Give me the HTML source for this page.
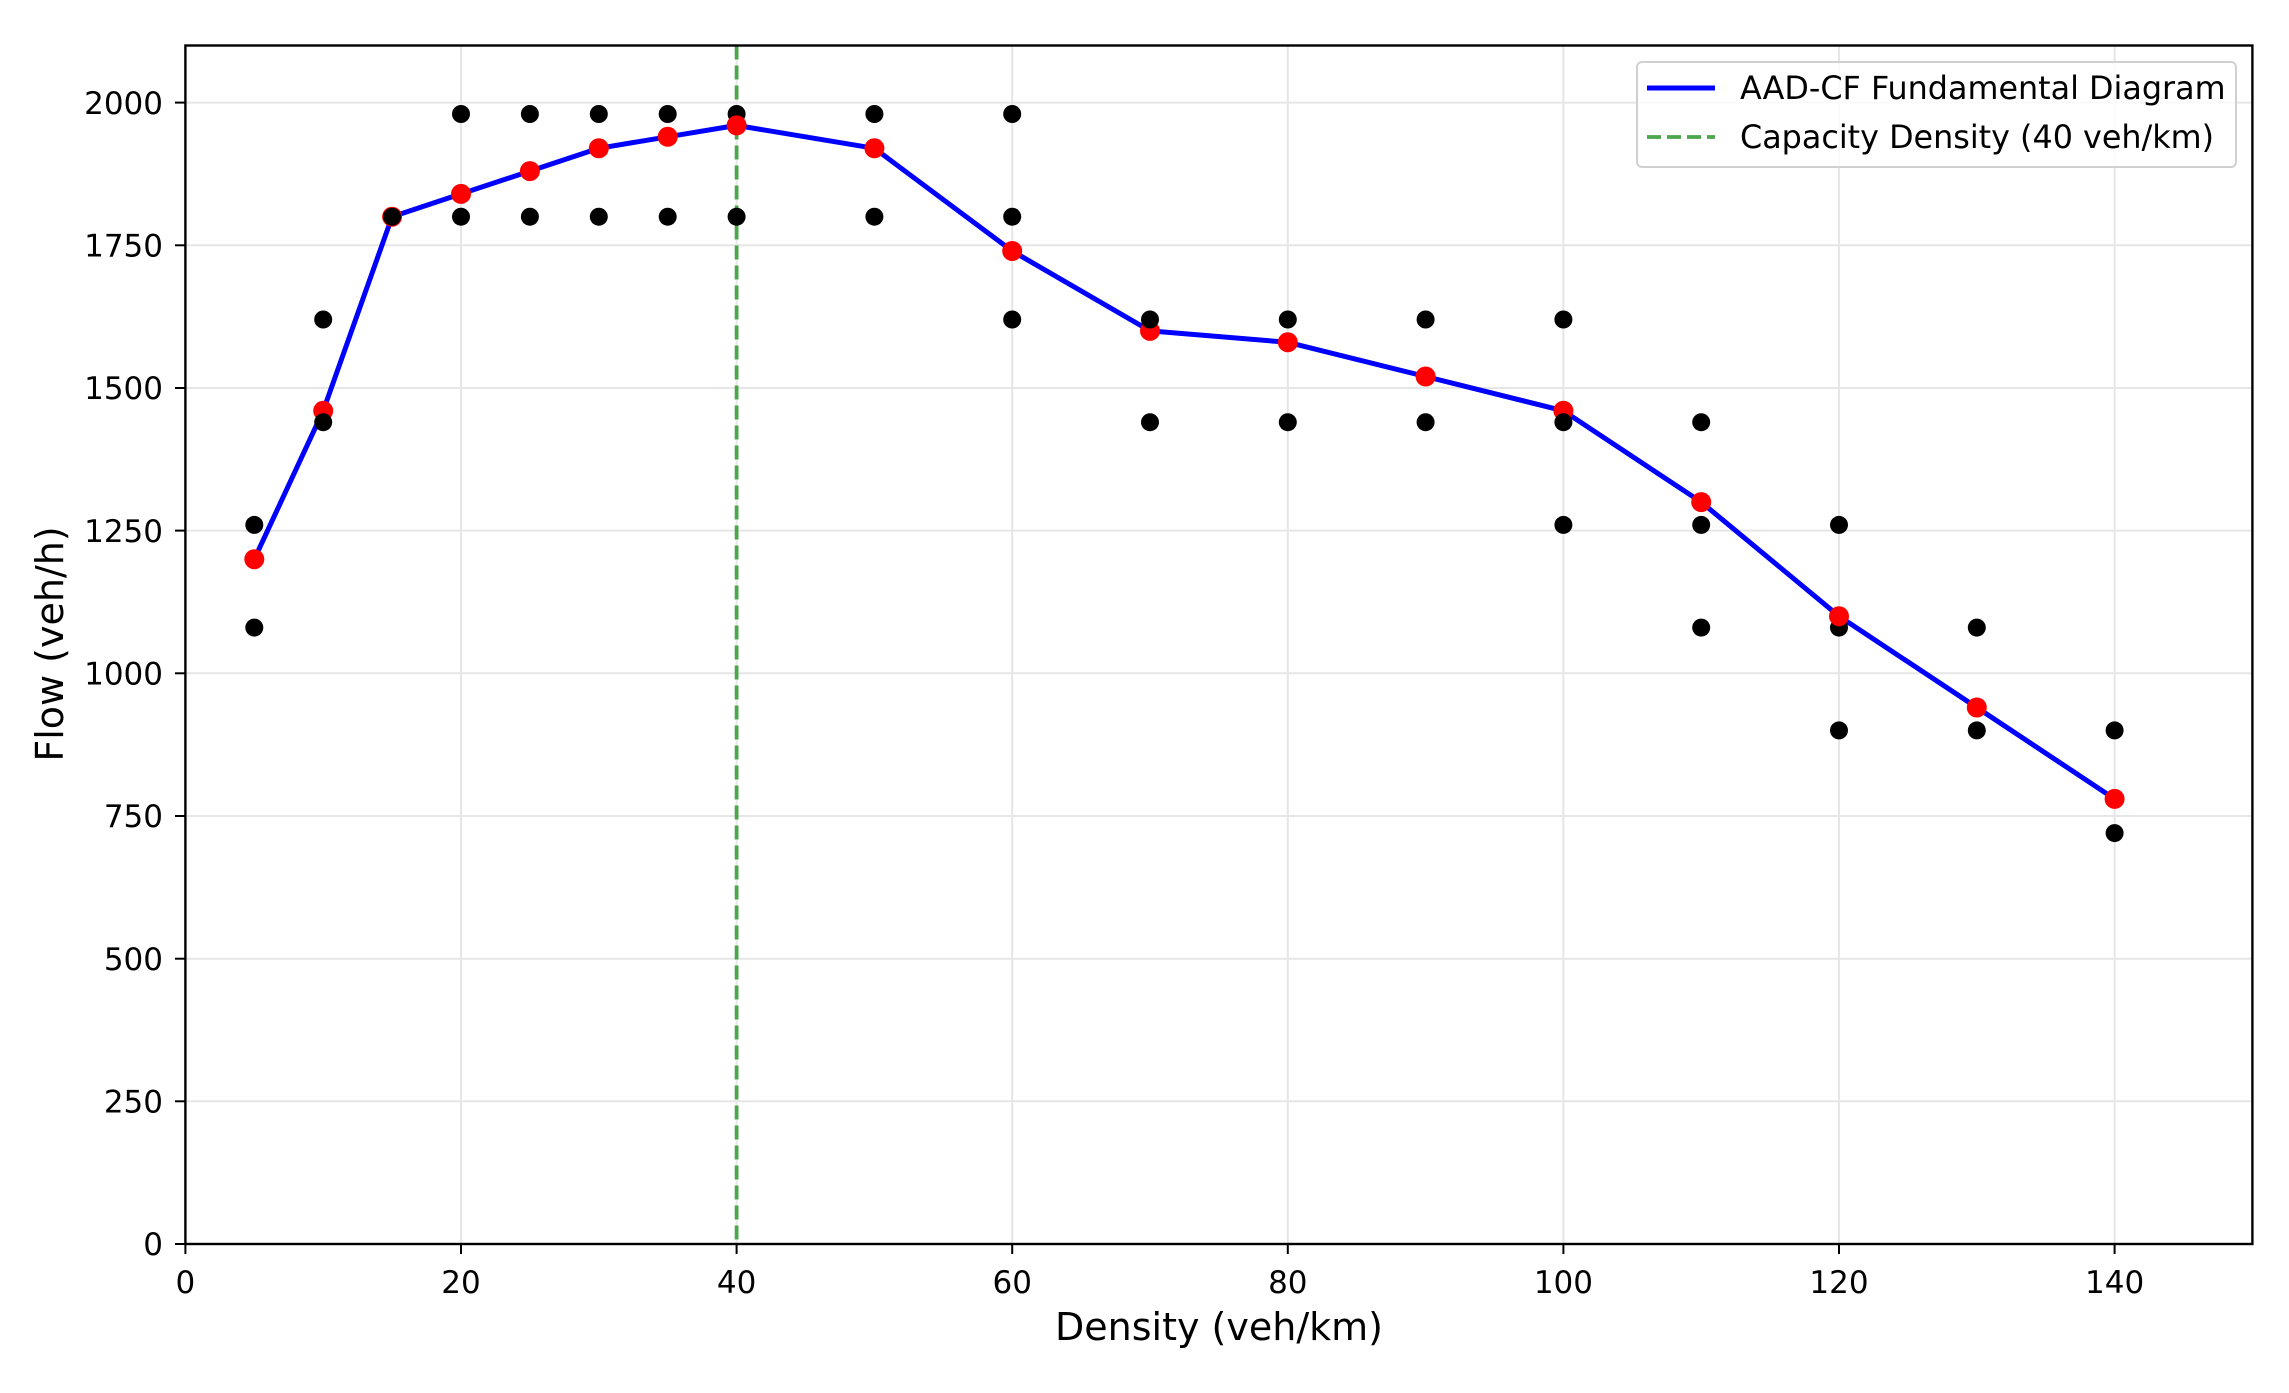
<!DOCTYPE html>
<html><head><meta charset="utf-8"><style>html,body{margin:0;padding:0;background:#fff}svg{display:block}</style></head>
<body>
<svg width="2289" height="1393" xmlns="http://www.w3.org/2000/svg" font-family="'DejaVu Sans','Liberation Sans',sans-serif">
<rect width="2289" height="1393" fill="#fff"/>
<g stroke="#e6e6e6" stroke-width="2">
<line x1="185.4" y1="45.5" x2="185.4" y2="1244"/>
<line x1="461" y1="45.5" x2="461" y2="1244"/>
<line x1="736.6" y1="45.5" x2="736.6" y2="1244"/>
<line x1="1012.2" y1="45.5" x2="1012.2" y2="1244"/>
<line x1="1287.8" y1="45.5" x2="1287.8" y2="1244"/>
<line x1="1563.4" y1="45.5" x2="1563.4" y2="1244"/>
<line x1="1839" y1="45.5" x2="1839" y2="1244"/>
<line x1="2114.6" y1="45.5" x2="2114.6" y2="1244"/>
<line x1="185.4" y1="1101.3" x2="2252.4" y2="1101.3"/>
<line x1="185.4" y1="958.7" x2="2252.4" y2="958.7"/>
<line x1="185.4" y1="816" x2="2252.4" y2="816"/>
<line x1="185.4" y1="673.3" x2="2252.4" y2="673.3"/>
<line x1="185.4" y1="530.6" x2="2252.4" y2="530.6"/>
<line x1="185.4" y1="388" x2="2252.4" y2="388"/>
<line x1="185.4" y1="245.3" x2="2252.4" y2="245.3"/>
<line x1="185.4" y1="102.6" x2="2252.4" y2="102.6"/>
</g>
<line x1="736.6" y1="45.5" x2="736.6" y2="1244" stroke="#4ca64c" stroke-width="3.8" stroke-dasharray="14,6"/>
<polyline fill="none" stroke="#0000ff" stroke-width="5" stroke-linejoin="round" points="254.3,559.2 323.2,410.8 392.1,216.7 461,193.9 529.9,171.1 598.8,148.3 667.7,136.8 736.6,125.4 874.4,148.3 1012.2,251 1150,330.9 1287.8,342.3 1425.6,376.5 1563.4,410.8 1701.2,502.1 1839,616.2 1976.8,707.5 2114.6,798.9"/>
<g fill="#ff0000">
<circle cx="254.3" cy="559.2" r="10"/><circle cx="323.2" cy="410.8" r="10"/><circle cx="392.1" cy="216.7" r="10"/><circle cx="461" cy="193.9" r="10"/><circle cx="529.9" cy="171.1" r="10"/><circle cx="598.8" cy="148.3" r="10"/><circle cx="667.7" cy="136.8" r="10"/><circle cx="874.4" cy="148.3" r="10"/><circle cx="1012.2" cy="251" r="10"/><circle cx="1150" cy="330.9" r="10"/><circle cx="1287.8" cy="342.3" r="10"/><circle cx="1425.6" cy="376.5" r="10"/><circle cx="1563.4" cy="410.8" r="10"/><circle cx="1701.2" cy="502.1" r="10"/><circle cx="1976.8" cy="707.5" r="10"/><circle cx="2114.6" cy="798.9" r="10"/>
</g>
<g fill="#000">
<circle cx="254.3" cy="524.9" r="9"/><circle cx="254.3" cy="627.6" r="9"/>
<circle cx="323.2" cy="319.5" r="9"/><circle cx="323.2" cy="422.2" r="9"/>
<circle cx="392.1" cy="216.7" r="9"/>
<circle cx="461" cy="114" r="9"/><circle cx="461" cy="216.7" r="9"/>
<circle cx="529.9" cy="114" r="9"/><circle cx="529.9" cy="216.7" r="9"/>
<circle cx="598.8" cy="114" r="9"/><circle cx="598.8" cy="216.7" r="9"/>
<circle cx="667.7" cy="114" r="9"/><circle cx="667.7" cy="216.7" r="9"/>
<circle cx="736.6" cy="114" r="9"/><circle cx="736.6" cy="216.7" r="9"/>
<circle cx="874.4" cy="114" r="9"/><circle cx="874.4" cy="216.7" r="9"/>
<circle cx="1012.2" cy="114" r="9"/><circle cx="1012.2" cy="216.7" r="9"/><circle cx="1012.2" cy="319.5" r="9"/>
<circle cx="1150" cy="319.5" r="9"/><circle cx="1150" cy="422.2" r="9"/>
<circle cx="1287.8" cy="319.5" r="9"/><circle cx="1287.8" cy="422.2" r="9"/>
<circle cx="1425.6" cy="319.5" r="9"/><circle cx="1425.6" cy="422.2" r="9"/>
<circle cx="1563.4" cy="319.5" r="9"/><circle cx="1563.4" cy="422.2" r="9"/><circle cx="1563.4" cy="524.9" r="9"/>
<circle cx="1701.2" cy="422.2" r="9"/><circle cx="1701.2" cy="524.9" r="9"/><circle cx="1701.2" cy="627.6" r="9"/>
<circle cx="1839" cy="524.9" r="9"/><circle cx="1839" cy="627.6" r="9"/><circle cx="1839" cy="730.4" r="9"/>
<circle cx="1976.8" cy="627.6" r="9"/><circle cx="1976.8" cy="730.4" r="9"/>
<circle cx="2114.6" cy="730.4" r="9"/><circle cx="2114.6" cy="833.1" r="9"/>
</g>
<g fill="#ff0000"><circle cx="736.6" cy="125.4" r="10"/><circle cx="1839" cy="616.2" r="10"/></g>
<rect x="185.4" y="45.5" width="2067" height="1198.5" fill="none" stroke="#000" stroke-width="2.4"/>
<g stroke="#000" stroke-width="2">
<line x1="185.4" y1="1244" x2="185.4" y2="1254"/><line x1="461" y1="1244" x2="461" y2="1254"/><line x1="736.6" y1="1244" x2="736.6" y2="1254"/><line x1="1012.2" y1="1244" x2="1012.2" y2="1254"/><line x1="1287.8" y1="1244" x2="1287.8" y2="1254"/><line x1="1563.4" y1="1244" x2="1563.4" y2="1254"/><line x1="1839" y1="1244" x2="1839" y2="1254"/><line x1="2114.6" y1="1244" x2="2114.6" y2="1254"/>
<line x1="175" y1="1244" x2="185.4" y2="1244"/><line x1="175" y1="1101.3" x2="185.4" y2="1101.3"/><line x1="175" y1="958.7" x2="185.4" y2="958.7"/><line x1="175" y1="816" x2="185.4" y2="816"/><line x1="175" y1="673.3" x2="185.4" y2="673.3"/><line x1="175" y1="530.6" x2="185.4" y2="530.6"/><line x1="175" y1="388" x2="185.4" y2="388"/><line x1="175" y1="245.3" x2="185.4" y2="245.3"/><line x1="175" y1="102.6" x2="185.4" y2="102.6"/>
</g>
<g font-size="31" fill="#000" text-anchor="middle">
<text x="185.4" y="1293">0</text><text x="461" y="1293">20</text><text x="736.6" y="1293">40</text><text x="1012.2" y="1293">60</text><text x="1287.8" y="1293">80</text><text x="1563.4" y="1293">100</text><text x="1839" y="1293">120</text><text x="2114.6" y="1293">140</text>
</g>
<g font-size="31" fill="#000" text-anchor="end">
<text x="163" y="1255">0</text><text x="163" y="1112.5">250</text><text x="163" y="970">500</text><text x="163" y="827">750</text><text x="163" y="684.5">1000</text><text x="163" y="542">1250</text><text x="163" y="399">1500</text><text x="163" y="256.5">1750</text><text x="163" y="114">2000</text>
</g>
<text x="1219" y="1340" font-size="38" text-anchor="middle">Density (veh/km)</text>
<text transform="translate(63,644) rotate(-90)" font-size="38" text-anchor="middle">Flow (veh/h)</text>
<rect x="1637" y="62" width="599" height="105" rx="5" fill="#fff" fill-opacity="0.8" stroke="#d0d0d0" stroke-width="2"/>
<line x1="1647" y1="88" x2="1715" y2="88" stroke="#0000ff" stroke-width="5"/>
<line x1="1647" y1="137" x2="1715" y2="137" stroke="#4ca64c" stroke-width="3.8" stroke-dasharray="14,6"/>
<text x="1740" y="99" font-size="31.8">AAD-CF Fundamental Diagram</text>
<text x="1740" y="148" font-size="31.8">Capacity Density (40 veh/km)</text>
</svg>
</body></html>
